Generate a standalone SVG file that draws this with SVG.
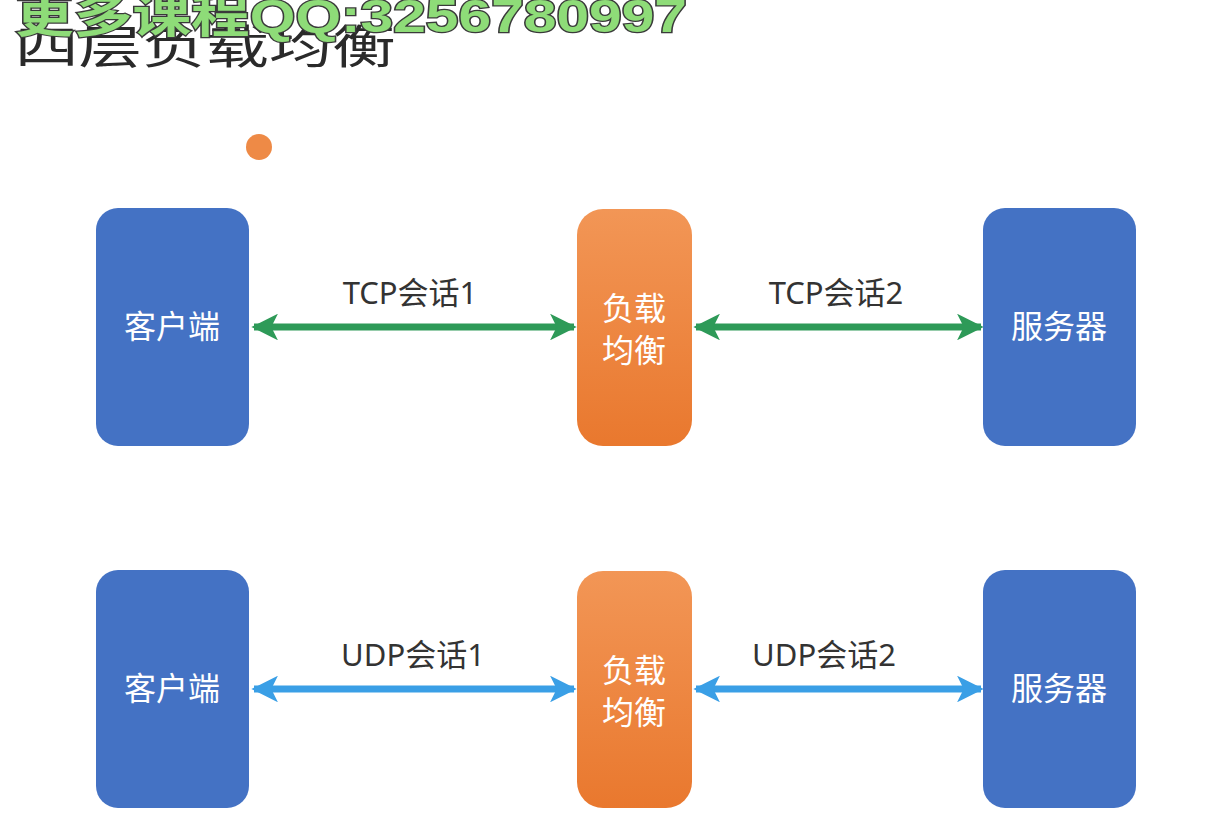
<svg xmlns="http://www.w3.org/2000/svg" width="1212" height="814" viewBox="0 0 1212 814">
<defs>
<linearGradient id="og" x1="0" y1="0" x2="0" y2="1">
<stop offset="0" stop-color="#F29656"/>
<stop offset="1" stop-color="#E9782E"/>
</linearGradient>
<marker id="gh" viewBox="0 0 10 10" refX="9" refY="5" markerWidth="3.8" markerHeight="3.8" orient="auto-start-reverse" markerUnits="strokeWidth">
<path d="M0,0 L10,5 L0,10 L2.5,5 Z" fill="#2E9A58"/>
</marker>
<marker id="bh" viewBox="0 0 10 10" refX="9" refY="5" markerWidth="3.8" markerHeight="3.8" orient="auto-start-reverse" markerUnits="strokeWidth">
<path d="M0,0 L10,5 L0,10 L2.5,5 Z" fill="#3A9FE6"/>
</marker>
</defs>
<style>
.blue{fill:#4472C4}
.org{fill:url(#og)}
.wt{font-family:"Noto Sans CJK SC","Noto Sans",sans-serif;font-size:32px;fill:#ffffff;text-anchor:middle}
.lt{font-family:"Noto Sans","Noto Sans CJK SC",sans-serif;font-size:31px;fill:#333333;text-anchor:middle}
.ga{stroke:#2E9A58;stroke-width:7;fill:none;marker-start:url(#gh);marker-end:url(#gh)}
.ba{stroke:#3A9FE6;stroke-width:7;fill:none;marker-start:url(#bh);marker-end:url(#bh)}
</style>
<rect width="1212" height="814" fill="#ffffff"/>
<g id="title">
<text transform="translate(15,63) scale(1.38,1)" font-family="Noto Sans CJK SC,sans-serif" font-size="46" fill="#2a2a2a">四层负载均衡</text>
</g>
<g id="watermark">
<text x="15" y="32" font-family="Liberation Sans,Noto Sans CJK SC,sans-serif" font-weight="bold" font-size="46" fill="#8EDC78" stroke="#3a3a3a" stroke-width="2.5" paint-order="stroke" textLength="672" lengthAdjust="spacingAndGlyphs">更多课程QQ:3256780997</text>
</g>
<g id="dot"><circle cx="259" cy="147" r="13" fill="#EE8A46"/></g>
<g id="connectors">
<line class="ga" x1="254" y1="327" x2="574" y2="327"/>
<line class="ga" x1="696" y1="327" x2="981" y2="327"/>
<line class="ba" x1="254" y1="689" x2="574" y2="689"/>
<line class="ba" x1="696" y1="689" x2="981" y2="689"/>
<text class="lt" x="410" y="304">TCP会话1</text>
<text class="lt" x="836" y="304">TCP会话2</text>
<text class="lt" x="413" y="666">UDP会话1</text>
<text class="lt" x="824" y="666">UDP会话2</text>
</g>
<g id="client1"><rect class="blue" x="96" y="208" width="153" height="238" rx="22"/><text class="wt" x="172" y="338">客户端</text></g>
<g id="lb1"><rect class="org" x="577" y="209" width="115" height="237" rx="26"/><text class="wt" x="634" y="320">负载</text><text class="wt" x="634" y="362">均衡</text></g>
<g id="server1"><rect class="blue" x="983" y="208" width="153" height="238" rx="22"/><text class="wt" x="1059" y="338">服务器</text></g>
<g id="client2"><rect class="blue" x="96" y="570" width="153" height="238" rx="22"/><text class="wt" x="172" y="700">客户端</text></g>
<g id="lb2"><rect class="org" x="577" y="571" width="115" height="237" rx="26"/><text class="wt" x="634" y="682">负载</text><text class="wt" x="634" y="724">均衡</text></g>
<g id="server2"><rect class="blue" x="983" y="570" width="153" height="238" rx="22"/><text class="wt" x="1059" y="700">服务器</text></g>
</svg>
